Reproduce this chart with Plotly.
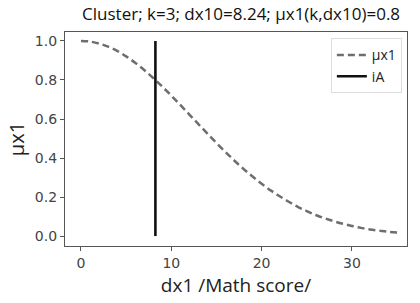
import plotly.graph_objects as go

dx1 = list(range(0, 36))
mu_x1 = [1.000, 0.997, 0.987, 0.971, 0.949, 0.921, 0.888, 0.851, 0.810, 0.766,
         0.720, 0.672, 0.623, 0.574, 0.525, 0.477, 0.431, 0.386, 0.344, 0.305,
         0.268, 0.234, 0.204, 0.176, 0.150, 0.128, 0.108, 0.091, 0.076, 0.063,
         0.052, 0.042, 0.034, 0.028, 0.022, 0.018]
iA_x = [8.24, 8.24]
iA_y = [0.0, 1.0]
title_text = "Cluster; k=3; dx10=8.24; µx1(k,dx10)=0.8"

fig = go.Figure()
fig.add_trace(go.Scatter(x=dx1, y=mu_x1, mode="lines", name="µx1",
                         line=dict(color="#6e6e6e", width=2.5, dash="7px,4px", shape="spline")))
fig.add_trace(go.Scatter(x=iA_x, y=iA_y, mode="lines", name="iA",
                         line=dict(color="#111111", width=2.6)))

axis_common = dict(showgrid=False, zeroline=False, showline=True, linecolor="#555555",
                   linewidth=1.2, mirror=True, ticks="outside", ticklen=4, automargin=False,
                   tickcolor="#555555", tickfont=dict(family="DejaVu Sans", size=14, color="#444444"))

fig.update_layout(
    width=420, height=303,
    margin=dict(l=65, r=13, t=32, b=57, autoexpand=False),
    paper_bgcolor="white", plot_bgcolor="white",
    title=dict(text=title_text, x=0.574, xanchor="center", y=0.955, yanchor="middle",
               font=dict(family="Open Sans", size=17, color="#111111")),
    xaxis=dict(range=[-1.77, 36.1], tickvals=[0, 10, 20, 30],
               title=dict(text="dx1 /Math score/", font=dict(family="Open Sans", size=19, color="#222222"), standoff=8),
               **axis_common),
    yaxis=dict(range=[-0.051, 1.046], tickvals=[0, 0.2, 0.4, 0.6, 0.8, 1.0],
               tickformat=".1f",
               title=dict(text="µx1", font=dict(family="Open Sans", size=20, color="#222222"), standoff=4),
               **axis_common),
    legend=dict(x=0.985, y=0.97, xanchor="right", yanchor="top",
                bgcolor="rgba(255,255,255,0.9)", bordercolor="#dddddd", borderwidth=1,
                font=dict(family="Open Sans", size=14, color="#222222"),
                itemwidth=30, tracegroupgap=0),
    showlegend=True,
)

fig.write_html("out.html", config={"displayModeBar": False},
               post_script="document.body.style.margin='0';document.body.style.padding='0';")
